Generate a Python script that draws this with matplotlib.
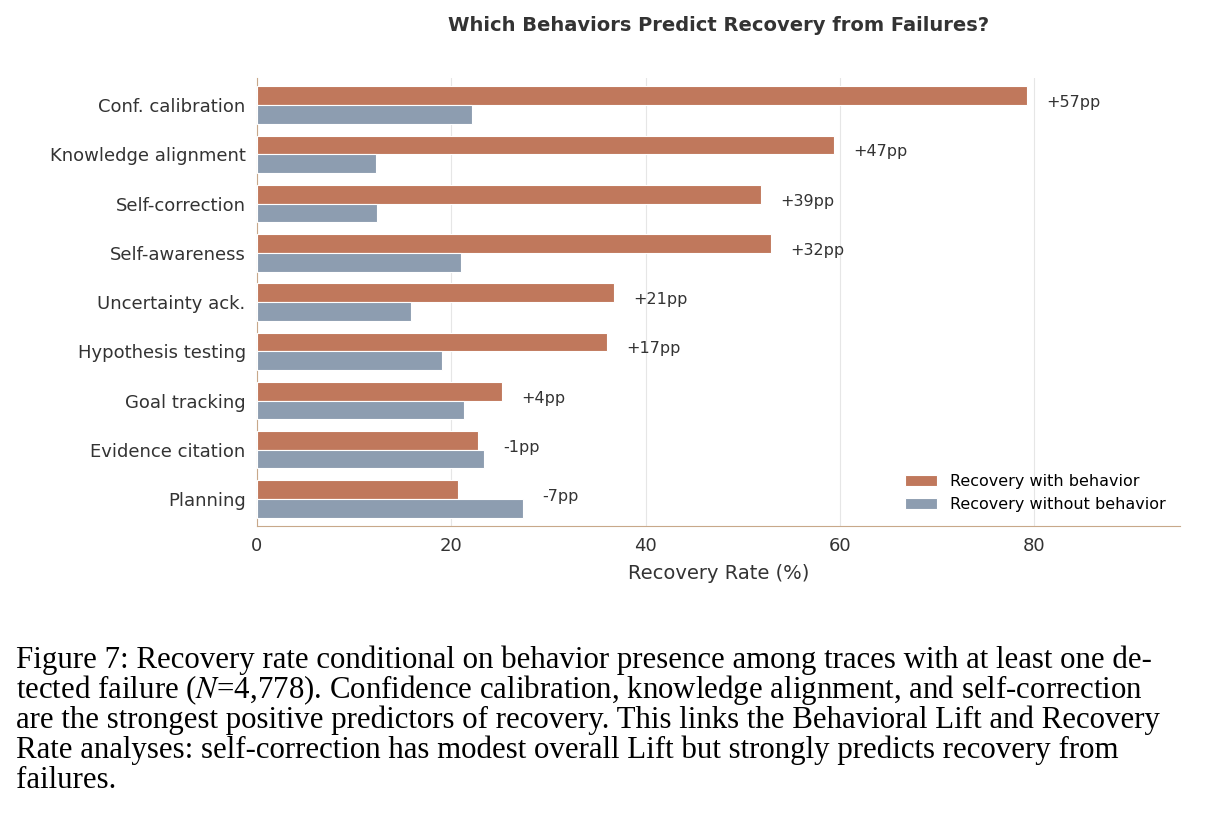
import matplotlib
matplotlib.use("Agg")
import matplotlib.pyplot as plt
import numpy as np

plt.rcParams["mathtext.fontset"] = "stix"

behaviors = ["Conf. calibration", "Knowledge alignment", "Self-correction", "Self-awareness",
             "Uncertainty ack.", "Hypothesis testing", "Goal tracking", "Evidence citation", "Planning"]
with_behavior = [79.2, 59.4, 51.9, 52.9, 36.7, 36.0, 25.2, 22.8, 20.7]
without_behavior = [22.1, 12.3, 12.4, 21.0, 15.9, 19.1, 21.3, 23.4, 27.4]
lift_labels = ["+57pp", "+47pp", "+39pp", "+32pp", "+21pp", "+17pp", "+4pp", "-1pp", "-7pp"]

caption = [
    "Figure 7: Recovery rate conditional on behavior presence among traces with at least one de-",
    "tected failure ($N$=4,778). Confidence calibration, knowledge alignment, and self-correction",
    "are the strongest positive predictors of recovery. This links the Behavioral Lift and Recovery",
    "Rate analyses: self-correction has modest overall Lift but strongly predicts recovery from",
    "failures.",
]

fig = plt.figure(figsize=(12.23, 8.22), dpi=100)
ax = fig.add_axes([0.21, 0.36, 0.755, 0.545])

y = np.arange(len(behaviors))
h = 0.38
ax.barh(y - h / 2, with_behavior, height=h, color="#c0785c", edgecolor="white", linewidth=0.8,
        label="Recovery with behavior", zorder=3)
ax.barh(y + h / 2, without_behavior, height=h, color="#8d9db0", edgecolor="white", linewidth=0.8,
        label="Recovery without behavior", zorder=3)
for i, lab in enumerate(lift_labels):
    ax.text(max(with_behavior[i], without_behavior[i]) + 2, i - 0.05, lab,
            va="center", ha="left", fontsize=11.5, color="#333333")

ax.set_yticks(y)
ax.set_yticklabels(behaviors, fontsize=13, color="#333333")
ax.set_ylim(len(behaviors) - 0.45, -0.55)
ax.set_xlim(0, 95)
ax.set_xticks([0, 20, 40, 60, 80])
ax.tick_params(axis="x", labelsize=13, colors="#333333", length=0, pad=8)
ax.tick_params(axis="y", length=0, pad=8)
ax.set_xlabel("Recovery Rate (%)", fontsize=14, color="#333333", labelpad=6)
ax.set_title("Which Behaviors Predict Recovery from Failures?", fontsize=14, fontweight="bold",
             color="#333333", pad=34)
ax.grid(axis="x", color="#e6e6e6", linewidth=0.8, zorder=0)
for s in ["top", "right"]:
    ax.spines[s].set_visible(False)
for s in ["left", "bottom"]:
    ax.spines[s].set_color("#c8a88a")
ax.legend(loc="lower right", frameon=False, fontsize=11.5)

for k, line in enumerate(caption):
    fig.text(0.013, 0.197 - k * 0.0365, line, fontsize=22.2, family="Liberation Serif",
             va="center", ha="left", color="black")

fig.savefig("out.png", dpi=100)
